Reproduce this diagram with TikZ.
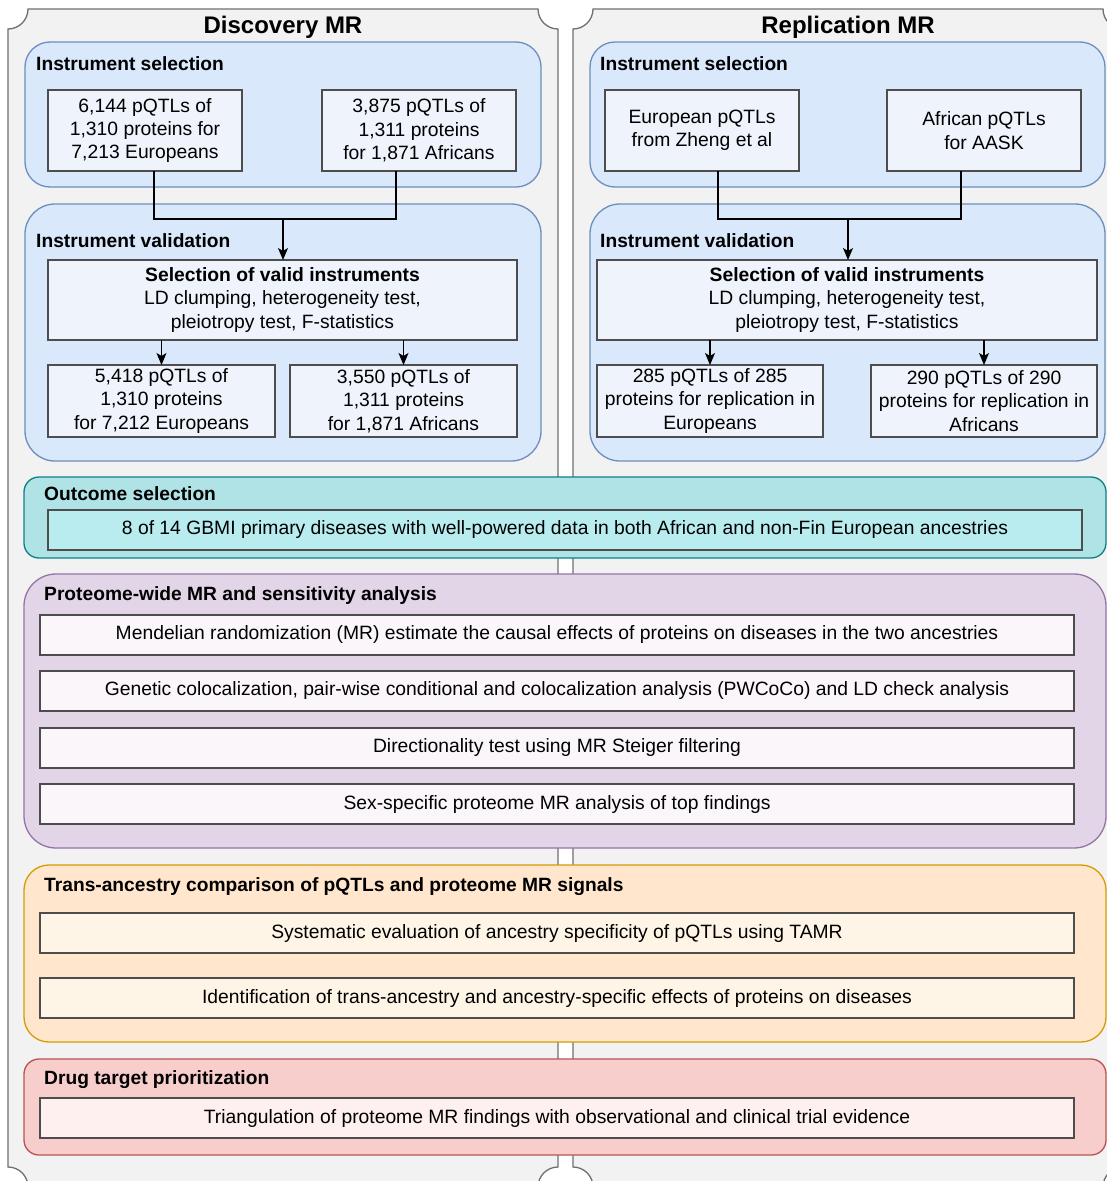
\documentclass[tikz,border=0pt]{standalone}
\usepackage{fontspec}
\setmainfont{Liberation Sans}
\usetikzlibrary{arrows.meta,calc}
\definecolor{plaqueFill}{HTML}{F2F2F2}
\definecolor{plaqueLine}{HTML}{707070}
\definecolor{blueFill}{HTML}{DAE8FC}
\definecolor{blueLine}{HTML}{6C8EBF}
\definecolor{blueIn}{HTML}{EEF3FC}
\definecolor{tealFill}{HTML}{B0E3E6}
\definecolor{tealLine}{HTML}{0E8088}
\definecolor{tealIn}{HTML}{B8ECEF}
\definecolor{purpFill}{HTML}{E1D5E7}
\definecolor{purpLine}{HTML}{9673A6}
\definecolor{purpIn}{HTML}{FBF6FA}
\definecolor{orFill}{HTML}{FFE6CC}
\definecolor{orLine}{HTML}{D79B00}
\definecolor{orIn}{HTML}{FFF5E6}
\definecolor{redFill}{HTML}{F8CECC}
\definecolor{redLine}{HTML}{B85450}
\definecolor{redIn}{HTML}{FDF0EE}
\definecolor{boxLine}{HTML}{4D4D4D}
\tikzset{
  plaque/.style={fill=plaqueFill,draw=plaqueLine,line width=1.3pt},
  grp/.style={draw,line width=1.3pt,inner sep=0pt,outer sep=0pt},
  ibox/.style={draw=boxLine,line width=1.4pt,inner sep=0pt,outer sep=0pt,align=center,
    font=\fontsize{19.3}{23.3}\selectfont},
  gtitle/.style={anchor=west,inner sep=0pt,font=\fontsize{19.2}{22}\selectfont\bfseries},
  htitle/.style={inner sep=0pt,font=\fontsize{24}{28}\selectfont\bfseries},
  conn/.style={draw=black,line width=1.3pt},
  arr/.style={conn,-{Stealth[length=12pt,width=10pt,inset=3pt]}}
}
\begin{document}
\begin{tikzpicture}[x=1pt,y=-1pt]
\clip (0,0) rectangle (1107,1181);
\fill[white] (0,0) rectangle (1107,1181);
% plaques
\path[plaque] (28,9) -- (538,9) .. controls (538,20.05) and (546.95,29) .. (558,29)
  -- (558,1167) .. controls (546.95,1167) and (538,1175.95) .. (538,1187)
  -- (28,1187) .. controls (28,1175.95) and (19.05,1167) .. (8,1167)
  -- (8,29) .. controls (19.05,29) and (28,20.05) .. (28,9) -- cycle;
\path[plaque] (593,9) -- (1103,9) .. controls (1103,20.05) and (1111.95,29) .. (1123,29)
  -- (1123,1167) .. controls (1111.95,1167) and (1103,1175.95) .. (1103,1187)
  -- (593,1187) .. controls (593,1175.95) and (584.05,1167) .. (573,1167)
  -- (573,29) .. controls (584.05,29) and (593,20.05) .. (593,9) -- cycle;
\node[htitle] (hD) at (283,27) {Discovery MR};
\node[htitle] (hR) at (848,27) {Replication MR};
% groups
\node[grp,fill=blueFill,draw=blueLine,rounded corners=25pt,minimum width=516,minimum height=145] (gLS) at (283,114.5) {};
\node[grp,fill=blueFill,draw=blueLine,rounded corners=30pt,minimum width=516,minimum height=257] (gLV) at (283,332.5) {};
\node[grp,fill=blueFill,draw=blueLine,rounded corners=25pt,minimum width=515,minimum height=145] (gRS) at (847.5,114.5) {};
\node[grp,fill=blueFill,draw=blueLine,rounded corners=30pt,minimum width=515,minimum height=257] (gRV) at (847.5,332.5) {};
\node[grp,fill=tealFill,draw=tealLine,rounded corners=15pt,minimum width=1082,minimum height=81] (gO) at (565,517.5) {};
\node[grp,fill=purpFill,draw=purpLine,rounded corners=32pt,minimum width=1082,minimum height=274] (gP) at (565,711) {};
\node[grp,fill=orFill,draw=orLine,rounded corners=25pt,minimum width=1082,minimum height=177] (gT) at (565,953.5) {};
\node[grp,fill=redFill,draw=redLine,rounded corners=15pt,minimum width=1082,minimum height=96] (gD) at (565,1107) {};
% group titles
\node[gtitle] (tLS) at (36,64) {Instrument selection};
\node[gtitle] (tLV) at (36,241) {Instrument validation};
\node[gtitle] (tRS) at (600,64) {Instrument selection};
\node[gtitle] (tRV) at (600,241) {Instrument validation};
\node[gtitle] (tO) at (44,494) {Outcome selection};
\node[gtitle] (tP) at (44,596) {Proteome-wide MR and sensitivity analysis};
\node[gtitle] (tT) at (44,887) {Trans-ancestry comparison of pQTLs and proteome MR signals};
\node[gtitle] (tD) at (44,1080) {Drug target prioritization};
% inner boxes
\node[ibox,fill=blueIn,minimum width=194,minimum height=81] (L1) at (145,130.5) {6,144 pQTLs of\\1,310 proteins for\\7,213 Europeans};
\node[ibox,fill=blueIn,minimum width=194,minimum height=81] (L2) at (419,130.5) {3,875 pQTLs of\\1,311 proteins\\for 1,871 Africans};
\node[ibox,fill=blueIn,minimum width=194,minimum height=81] (R1) at (702,130.5) {European pQTLs\\from Zheng et al};
\node[ibox,fill=blueIn,minimum width=194,minimum height=81] (R2) at (984,130.5) {African pQTLs\\for AASK};
\node[ibox,fill=blueIn,minimum width=469,minimum height=80] (LV) at (282.5,300) {\textbf{Selection of valid instruments}\\LD clumping, heterogeneity test,\\pleiotropy test, F-statistics};
\node[ibox,fill=blueIn,minimum width=500,minimum height=80] (RV) at (847,300) {\textbf{Selection of valid instruments}\\LD clumping, heterogeneity test,\\pleiotropy test, F-statistics};
\node[ibox,fill=blueIn,minimum width=227,minimum height=72] (LR1) at (161.5,401) {5,418 pQTLs of\\1,310 proteins\\for 7,212 Europeans};
\node[ibox,fill=blueIn,minimum width=227,minimum height=72] (LR2) at (403.5,401) {3,550 pQTLs of\\1,311 proteins\\for 1,871 Africans};
\node[ibox,fill=blueIn,minimum width=226,minimum height=72] (RR1) at (710,401) {285 pQTLs of 285\\proteins for replication in\\Europeans};
\node[ibox,fill=blueIn,minimum width=226,minimum height=72] (RR2) at (984,401) {290 pQTLs of 290\\proteins for replication in\\Africans};
\node[ibox,fill=tealIn,minimum width=1034,minimum height=40] (O1) at (565,530) {8 of 14 GBMI primary diseases with well-powered data in both African and non-Fin European ancestries};
\node[ibox,fill=purpIn,minimum width=1034,minimum height=40] (P1) at (557,635) {Mendelian randomization (MR) estimate the causal effects of proteins on diseases in the two ancestries};
\node[ibox,fill=purpIn,minimum width=1034,minimum height=40] (P2) at (557,691) {Genetic colocalization, pair-wise conditional and colocalization analysis (PWCoCo) and LD check analysis};
\node[ibox,fill=purpIn,minimum width=1034,minimum height=40] (P3) at (557,748) {Directionality test using MR Steiger filtering};
\node[ibox,fill=purpIn,minimum width=1034,minimum height=40] (P4) at (557,804) {Sex-specific proteome MR analysis of top findings};
\node[ibox,fill=orIn,minimum width=1034,minimum height=40] (T1) at (557,933) {Systematic evaluation of ancestry specificity of pQTLs using TAMR};
\node[ibox,fill=orIn,minimum width=1034,minimum height=40] (T2) at (557,998) {Identification of trans-ancestry and ancestry-specific effects of proteins on diseases};
\node[ibox,fill=redIn,minimum width=1034,minimum height=40] (D1) at (557,1118) {Triangulation of proteome MR findings with observational and clinical trial evidence};
% connectors
\coordinate (Lj) at (283,219);
\coordinate (Rj) at (848,219);
\draw[conn] ([xshift=9pt]L1.south) |- (Lj) -| ([xshift=-23pt]L2.south);
\draw[arr] (Lj) -- (Lj |- LV.north);
\draw[conn] ([xshift=16pt]R1.south) |- (Rj) -| ([xshift=-23pt]R2.south);
\draw[arr] (Rj) -- (Rj |- RV.north);
\draw[arr] (LV.south -| LR1.north) -- (LR1.north);
\draw[arr] (LV.south -| LR2.north) -- (LR2.north);
\draw[arr] (RV.south -| RR1.north) -- (RR1.north);
\draw[arr] (RV.south -| RR2.north) -- (RR2.north);
\end{tikzpicture}
\end{document}
